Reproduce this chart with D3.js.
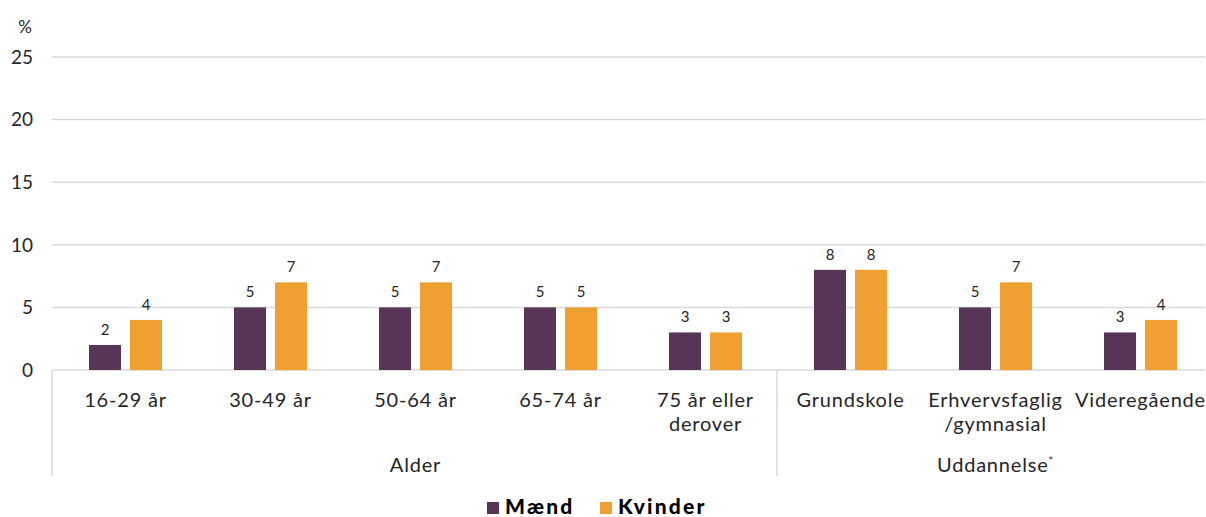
<!DOCTYPE html>
<html>
<head>
<meta charset="utf-8">
<script src="https://cdn.jsdelivr.net/npm/d3@7"></script>
<style>
  body { margin: 0; background: #fff; }
  svg text { font-family: Lato, "Open Sans", sans-serif; fill: #262626; }
</style>
</head>
<body>
<svg id="chart"></svg>
<script>
'use strict';
var categories = ["16-29 år", "30-49 år", "50-64 år", "65-74 år", "75 år eller derover",
  "Grundskole", "Erhvervsfaglig /gymnasial", "Videregående"];
var catLines = [["16-29 år"], ["30-49 år"], ["50-64 år"], ["65-74 år"], ["75 år eller", "derover"],
  ["Grundskole"], ["Erhvervsfaglig", "/gymnasial"], ["Videregående"]];
var groups = ["Alder", "Uddannelse"];
var groupSizes = [5, 3];
var series = ["Mænd", "Kvinder"];
var maend = [2, 5, 5, 5, 3, 8, 5, 3];
var kvinder = [4, 7, 7, 5, 3, 8, 7, 4];
var yTicks = [0, 5, 10, 15, 20, 25];
var colors = ["#573556", "#F0A030"];

var width = 1206, height = 517;
var margin = { top: 57, left: 53, bottom: 147 };
var plotBottom = height - margin.bottom;
var bandStep = 145;

var svg = d3.select("#chart").attr("width", width).attr("height", height);

var x0 = d3.scaleBand().domain(categories)
  .range([margin.left, margin.left + bandStep * categories.length]);
var bw = x0.bandwidth();
var x1 = d3.scaleBand().domain(series)
  .range([bw / 2 - 36.5, bw / 2 + 36.5]).paddingInner(0.22);
var y = d3.scaleLinear().domain([0, 25]).range([plotBottom, margin.top]);

// gridlines
svg.append("g").selectAll("line").data(yTicks).enter().append("line")
  .attr("x1", margin.left - 1).attr("x2", width - 1)
  .attr("y1", function(d) { return y(d); }).attr("y2", function(d) { return y(d); })
  .attr("stroke", "#d9d9d9").attr("stroke-width", 1.5);

// y labels
svg.append("g").selectAll("text").data(yTicks).enter().append("text")
  .attr("x", 33).attr("y", function(d) { return y(d); }).attr("dy", "0.36em")
  .attr("text-anchor", "end").style("font-size", "19px")
  .text(function(d) { return d; });
svg.append("text").attr("x", 25).attr("y", 33).attr("text-anchor", "middle")
  .style("font-size", "17px").text("%");

// bars
var data = categories.map(function(c, i) {
  return { cat: c, vals: [{ s: series[0], v: maend[i], c: colors[0] }, { s: series[1], v: kvinder[i], c: colors[1] }] };
});
var g = svg.append("g").selectAll("g").data(data).enter().append("g")
  .attr("transform", function(d) { return "translate(" + x0(d.cat) + ",0)"; });
g.selectAll("rect").data(function(d) { return d.vals; }).enter().append("rect")
  .attr("x", function(d) { return x1(d.s); })
  .attr("width", x1.bandwidth())
  .attr("y", function(d) { return y(d.v); })
  .attr("height", function(d) { return plotBottom - y(d.v); })
  .attr("fill", function(d) { return d.c; });
g.selectAll("text").data(function(d) { return d.vals; }).enter().append("text")
  .attr("x", function(d) { return x1(d.s) + x1.bandwidth() / 2; })
  .attr("y", function(d) { return y(d.v) - 10; })
  .attr("text-anchor", "middle").style("font-size", "15px")
  .text(function(d) { return d.v; });

// category labels
var cl = svg.append("g").selectAll("text").data(categories).enter().append("text")
  .attr("x", function(d) { return x0(d) + bw / 2; })
  .attr("y", 407).attr("text-anchor", "middle")
  .style("font-size", "20px").style("letter-spacing", "0.8px");
cl.selectAll("tspan").data(function(d, i) { return catLines[i]; }).enter().append("tspan")
  .attr("x", function() { return d3.select(this.parentNode).attr("x"); })
  .attr("dy", function(d, i) { return i === 0 ? 0 : 24; })
  .text(function(d) { return d; });

// group separators and labels
var start = 0;
var seps = [categories[0]];
groups.forEach(function(gname, i) {
  var first = categories[start], last = categories[start + groupSizes[i] - 1];
  var cx = (x0(first) + x0(last) + bw) / 2;
  var t = svg.append("text").attr("x", cx).attr("y", 472).attr("text-anchor", "middle")
    .style("font-size", "20px").style("letter-spacing", "0.8px").text(gname);
  if (gname === "Uddannelse") {
    t.append("tspan").attr("dy", -7).style("font-size", "11px").text("*");
  }
  start += groupSizes[i];
  if (start < categories.length) seps.push(categories[start]);
});
svg.append("g").selectAll("line").data(seps).enter().append("line")
  .attr("x1", function(d) { return x0(d) - 1; }).attr("x2", function(d) { return x0(d) - 1; })
  .attr("y1", plotBottom).attr("y2", 476)
  .attr("stroke", "#d9d9d9").attr("stroke-width", 1.5);

// legend
var legendX = [487, 600];
var lg = svg.append("g").selectAll("g").data(series).enter().append("g")
  .attr("transform", function(d, i) { return "translate(" + legendX[i] + ",502)"; });
lg.append("rect").attr("width", 12).attr("height", 12).attr("fill", function(d, i) { return colors[i]; });
lg.append("text").attr("x", 18).attr("y", 12)
  .style("font-size", "21px").style("font-weight", "900").style("letter-spacing", "2.2px")
  .style("fill", "#000").text(function(d) { return d; });
</script>
</body>
</html>
